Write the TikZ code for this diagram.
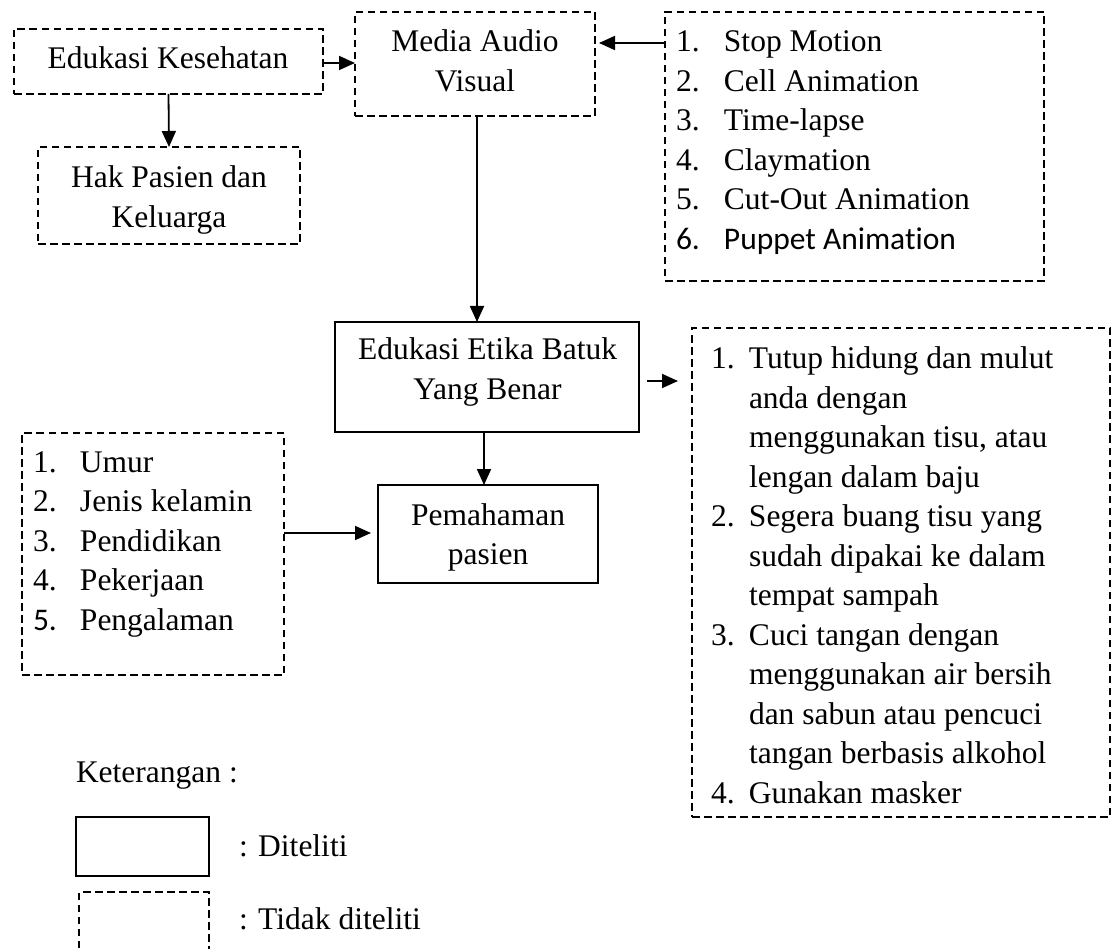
\documentclass[tikz,border=0pt]{standalone}
\usepackage{fontspec}
\setmainfont{Liberation Serif}
\newfontfamily\carlito[Ligatures=NoCommon]{Carlito}
\usetikzlibrary{arrows.meta}
\newcommand{\ml}[1]{\begin{tabular}[t]{@{}c@{}}#1\end{tabular}}
\newcommand{\lst}[1]{\begin{tabular}[t]{@{}l@{}}#1\end{tabular}}
\newcommand{\itm}[2]{\makebox[#1][l]{#2}}
\begin{document}
\begin{tikzpicture}[x=1pt,y=-1pt,
  every node/.style={font=\fontsize{31.5}{39.5}\selectfont, inner sep=0pt, outer sep=0pt},
  solidbox/.style={draw, line width=1.8pt, rectangle},
  dashbox/.style={draw, line width=1.7pt, rectangle, dash pattern=on 7.5pt off 4.5pt},
  arr/.style={line width=1.8pt, -{Triangle[length=16pt,width=14pt]}},
  txt/.style={anchor=base},
  lsttxt/.style={anchor=base west}
]
\useasboundingbox (0,0) rectangle (1119,949);

% boxes
\node[dashbox, minimum width=309pt, minimum height=65pt] (edu) at (168.5,61.5) {};
\node[dashbox, minimum width=240pt, minimum height=104pt] (media) at (475,64) {};
\node[dashbox, minimum width=262pt, minimum height=97pt] (hak) at (169,195.5) {};
\node[dashbox, minimum width=379pt, minimum height=269pt] (tlist) at (854.5,146.5) {};
\node[solidbox, minimum width=304pt, minimum height=110pt] (etika) at (487,377) {};
\node[solidbox, minimum width=220pt, minimum height=98pt] (pem) at (488,534) {};
\node[dashbox, minimum width=262pt, minimum height=242pt] (llist) at (153,554) {};
\node[dashbox, minimum width=418pt, minimum height=489pt] (rlist) at (901,572.5) {};
\node[solidbox, minimum width=133pt, minimum height=59pt] (legs) at (142.5,846.5) {};
\draw[line width=1.7pt, dash pattern=on 7.5pt off 4.5pt] (79,960) -- (79,892) -- (209,892) -- (209,960);

% texts
\node[txt] (edut) at (168,69) {Edukasi Kesehatan};
\node[txt] (mediat) at (475,52) {\ml{Media Audio\\Visual}};
\node[txt] (hakt) at (169,188) {\ml{Hak Pasien dan\\Keluarga}};
\node[txt] (etikat) at (487.5,360) {\ml{Edukasi Etika Batuk\\Yang Benar}};
\node[txt] (pemt) at (488,525) {\ml{Pemahaman\\pasien}};

\node[lsttxt] (tlistt) at (676,52) {\lst{%
\itm{48pt}{1.}Stop Motion\\
\itm{48pt}{2.}Cell Animation\\
\itm{48pt}{3.}Time-lapse\\
\itm{48pt}{4.}Claymation\\
\itm{48pt}{5.}Cut-Out Animation\\
{\carlito\itm{48pt}{6.}Puppet Animation}}};

\node[lsttxt] (llistt) at (33,472) {\lst{%
\itm{47pt}{1.}Umur\\
\itm{47pt}{2.}Jenis kelamin\\
\itm{47pt}{3.}Pendidikan\\
\itm{47pt}{4.}Pekerjaan\\
\itm{47pt}{\carlito 5.}Pengalaman}};

\node[lsttxt] (rlistt) at (711,369) {\lst{%
\itm{38pt}{1.}Tutup hidung dan mulut\\
\itm{38pt}{}anda dengan\\
\itm{38pt}{}menggunakan tisu, atau\\
\itm{38pt}{}lengan dalam baju\\
\itm{38pt}{2.}Segera buang tisu yang\\
\itm{38pt}{}sudah dipakai ke dalam\\
\itm{38pt}{}tempat sampah\\
\itm{38pt}{3.}Cuci tangan dengan\\
\itm{38pt}{}menggunakan air bersih\\
\itm{38pt}{}dan sabun atau pencuci\\
\itm{38pt}{}tangan berbasis alkohol\\
\itm{38pt}{4.}Gunakan masker}};

\node[lsttxt] (ket) at (76,782) {Keterangan :};
\node[lsttxt] (dit) at (239,856) {: Diteliti};
\node[lsttxt] (tdit) at (239,929) {: Tidak diteliti};

% connectors
\draw[arr] (edu.east |- 0,63) -- (media.west |- 0,63);
\draw[arr] (edu.south) -- (hak.north);
\draw[arr, shorten >=4pt] (tlist.west |- 0,43) -- (media.east |- 0,43);
\draw[arr] (media.south -| 477,0) -- (etika.north -| 477,0);
\draw[arr] (etika.south -| 484,0) -- (pem.north -| 484,0);
\draw[arr, shorten <=8pt, shorten >=14pt] (etika.east |- 0,381) -- (rlist.west |- 0,381);
\draw[arr, shorten >=7pt] (llist.east |- 0,533) -- (pem.west |- 0,533);
\end{tikzpicture}
\end{document}
